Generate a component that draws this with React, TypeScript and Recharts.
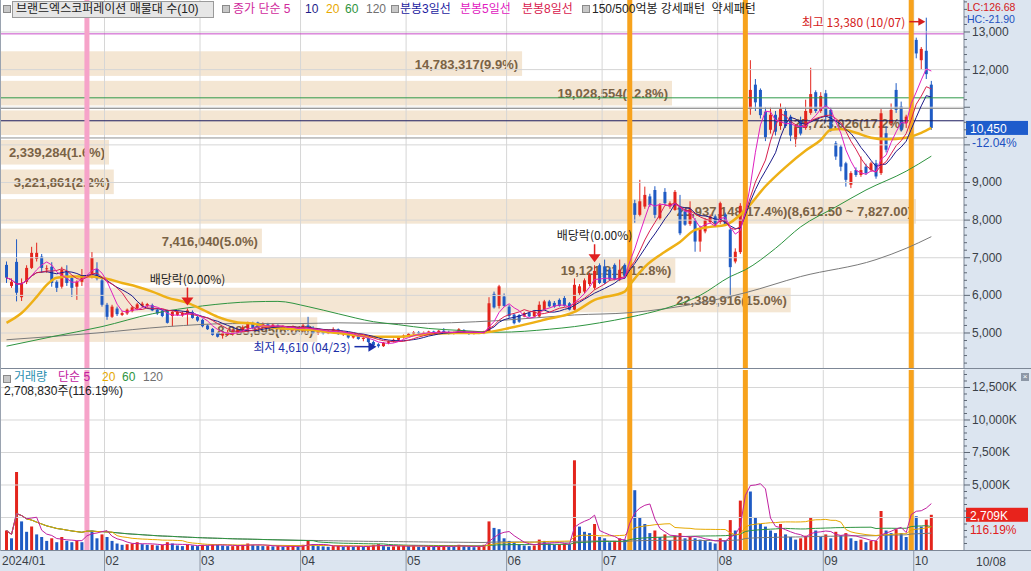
import React from 'react';
import { ComposedChart, Bar, Line, XAxis, YAxis, ReferenceLine, ReferenceDot, Cell } from 'recharts';

// ---------- categories ----------
const monthLabels = ['2024/01', '02', '03', '04', '05', '06', '07', '08', '09', '10'];
const tradingDays: number[][] = [
  [4, 5, 8, 9, 10, 11, 12, 15, 16, 17, 18, 19, 22, 23, 24, 25, 26, 29, 30, 31],
  [1, 2, 5, 6, 7, 8, 13, 14, 15, 16, 19, 20, 21, 22, 23, 26, 27, 28, 29],
  [4, 5, 6, 7, 8, 11, 12, 13, 14, 15, 18, 19, 20, 21, 22, 25, 26, 27, 28, 29],
  [1, 2, 3, 4, 5, 8, 9, 11, 12, 15, 16, 17, 18, 19, 22, 23, 24, 25, 26, 29, 30],
  [2, 3, 7, 8, 9, 10, 13, 14, 16, 17, 20, 21, 22, 23, 24, 27, 28, 29, 30, 31],
  [3, 4, 5, 7, 10, 11, 12, 13, 14, 17, 18, 19, 20, 21, 24, 25, 26, 27, 28],
  [1, 2, 3, 4, 5, 8, 9, 10, 11, 12, 15, 16, 17, 18, 19, 22, 23, 24, 25, 26, 29, 30, 31],
  [1, 2, 5, 6, 7, 8, 9, 12, 13, 14, 16, 19, 20, 21, 22, 23, 26, 27, 28, 29, 30],
  [2, 3, 4, 5, 6, 9, 10, 11, 12, 13, 19, 20, 23, 24, 25, 26, 27, 30],
  [2, 4, 7, 8],
];

// ---------- daily prices ----------
const opens = [
  6810, 6250, 6890, 5950, 6360, 6730, 6970, 7030, 6700, 6760, 6360, 6230, 6650, 6460, 6230, 6360, 6280, 6550, 6700, 6400,
  5750, 5430, 5650, 5480, 5520, 5580, 5650, 5720, 5720, 5740, 5620, 5600, 5600, 5450, 5480, 5470, 5500, 5560, 5430,
  5350, 5200, 5110, 5000, 4930, 4950, 4960, 5020, 5050, 5120, 5260, 5280, 5180, 5230, 5160, 5200, 5130, 5160, 5080, 5140,
  5060, 5200, 5130, 5000, 5050, 4990, 5060, 5100, 4970, 4990, 4880, 4950, 4840, 4870, 4760, 4700, 4650, 4740, 4780, 4820, 4880,
  4930, 4980, 5020, 4990, 5010, 5040, 5000, 5060, 5020, 4990, 5020, 5080, 5000, 4980, 5010, 4990, 5040, 6040, 5720, 5970,
  5700, 5490, 5480, 5440, 5530, 5440, 5440, 5620, 5840, 5800, 5880, 5930, 5790, 5620, 6060, 6100, 6300, 6200, 6800,
  6770, 6680, 6810, 6420, 6810, 6650, 8450, 8140, 8360, 8630, 8800, 8050, 8750, 8360, 8270, 8360, 8230, 7900, 8000, 7430, 7700, 7950, 8100,
  7950, 8150, 7750, 6900, 7150, 8400, 10950, 11600, 11460, 10880, 10400, 10800, 10500, 10900, 10750, 10150, 10650, 10450, 10850, 11400, 10900,
  11370, 10930, 10040, 9950, 9510, 8940, 9330, 9200, 9420, 9330, 9510, 9250, 10310, 10580, 11460, 11020, 10575, 10650,
  12790, 12250, 12500, 11600,
];
const highs = [
  6900, 6450, 7490, 6450, 6800, 7290, 7400, 7100, 6800, 6880, 6400, 6760, 6800, 6500, 6400, 6700, 7760, 7150, 6880, 6450,
  5800, 5750, 5700, 5580, 5650, 5720, 5800, 5830, 5800, 5780, 5650, 5620, 5620, 5580, 5600, 5580, 5650, 5600, 5450,
  5380, 5230, 5130, 5020, 5050, 5080, 5100, 5120, 5200, 5300, 5300, 5300, 5280, 5270, 5250, 5230, 5200, 5180, 5200, 5170,
  5250, 5430, 5180, 5080, 5100, 5080, 5150, 5120, 5030, 5010, 4980, 4970, 4900, 4890, 4800, 4730, 4760, 4800, 4850, 4900, 4960,
  5000, 5050, 5050, 5040, 5060, 5060, 5080, 5130, 5060, 5040, 5130, 5100, 5030, 5040, 5040, 5060, 5950, 6100, 6280, 6050,
  5750, 5520, 5500, 5560, 5560, 5600, 5840, 5880, 5880, 5850, 5920, 5980, 5820, 6450, 6300, 6450, 6600, 6800, 6850,
  6950, 6720, 6850, 6950, 6850, 8450, 8540, 9070, 8890, 8700, 8900, 8450, 8850, 8500, 8800, 8670, 8300, 8500, 8050, 7850, 8050, 8150, 8150,
  8490, 8200, 7800, 7250, 8450, 10890, 12250, 11750, 11500, 11000, 11000, 10900, 11100, 11000, 10800, 10550, 10750, 11200, 12050, 11450, 11400,
  11460, 11000, 10100, 10000, 9550, 9300, 9400, 9690, 9500, 9550, 9600, 10950, 10500, 11100, 11640, 11150, 10800, 12650,
  12850, 12600, 13380, 11700,
];
const lows = [
  6330, 6200, 5840, 5850, 6300, 6700, 6900, 6600, 6600, 6230, 6090, 6180, 6250, 5960, 5880, 6250, 6230, 6450, 6400, 5700,
  5350, 5400, 5450, 5450, 5480, 5550, 5620, 5680, 5680, 5580, 5480, 5420, 5250, 5180, 5450, 5430, 5200, 5380, 5300,
  5150, 5080, 4930, 4880, 4850, 4920, 4930, 4980, 5020, 5080, 5100, 5150, 5150, 5130, 5120, 5100, 5080, 5050, 5050, 5040,
  5040, 5100, 4980, 4950, 4960, 4970, 5020, 4950, 4920, 4850, 4850, 4820, 4780, 4740, 4650, 4610, 4630, 4700, 4750, 4790, 4850,
  4900, 4950, 4960, 4960, 4980, 4970, 4980, 5000, 4960, 4960, 5000, 4980, 4950, 4960, 4970, 4970, 5020, 5650, 5650, 5700,
  5400, 5230, 5270, 5420, 5420, 5420, 5420, 5600, 5680, 5670, 5700, 5700, 5600, 5600, 6000, 6050, 6250, 6150, 6300,
  6300, 6380, 6400, 6380, 6450, 6600, 7930, 8100, 8300, 8350, 8050, 8000, 8400, 8300, 8250, 7600, 7850, 7850, 7160, 7160, 7650, 7900, 7850,
  7900, 7850, 5970, 6850, 7100, 8300, 10800, 10900, 10700, 10100, 10300, 10250, 10400, 10450, 10100, 9950, 10250, 10400, 10800, 10850, 10850,
  10600, 10350, 9600, 9300, 8890, 8850, 9150, 9150, 9200, 9280, 9100, 9200, 9800, 10500, 10850, 10350, 10450, 10600,
  12300, 12000, 11750, 10400,
];
const closes = [
  6470, 6360, 6070, 6330, 6730, 7130, 7130, 6730, 6720, 6330, 6200, 6680, 6330, 6200, 6360, 6540, 7210, 7000, 6450, 5750,
  5430, 5700, 5500, 5530, 5620, 5680, 5760, 5780, 5770, 5600, 5520, 5450, 5270, 5560, 5560, 5530, 5600, 5400, 5330,
  5180, 5100, 4950, 4900, 5000, 5020, 5040, 5080, 5150, 5250, 5130, 5180, 5250, 5150, 5220, 5120, 5170, 5080, 5150, 5060,
  5200, 5130, 5000, 5050, 4990, 5060, 5100, 4970, 4990, 4880, 4950, 4840, 4870, 4760, 4680, 4650, 4740, 4780, 4820, 4880, 4930,
  4980, 5020, 4990, 5010, 5040, 5000, 5060, 5020, 4990, 5020, 5100, 5000, 4980, 5010, 4990, 5040, 5790, 5680, 6240, 5720,
  5450, 5260, 5300, 5530, 5440, 5570, 5750, 5840, 5710, 5700, 5720, 5720, 5620, 6280, 6240, 6400, 6550, 6650, 6330,
  6330, 6420, 6420, 6680, 6500, 8450, 8140, 8500, 8670, 8400, 8140, 8400, 8450, 8450, 8750, 7650, 7880, 8300, 7430, 7780, 8000, 8100, 7900,
  8450, 7880, 6750, 7160, 8380, 10890, 11460, 11130, 10790, 10200, 10800, 10350, 10950, 10500, 10250, 10450, 10300, 10900, 11350, 10900, 11300,
  10750, 10400, 9690, 9420, 9070, 9250, 9200, 9330, 9250, 9510, 9160, 10840, 9870, 10930, 10930, 10400, 10750, 12500,
  12430, 12550, 11880, 10450,
];
// volume in thousands of shares
const volumesK = [
  1500, 900, 6000, 2200, 1400, 1800, 1200, 1000, 700, 900, 600, 1000, 700, 600, 700, 600, 2850, 1500, 900, 1200,
  1000, 700, 500, 400, 450, 500, 600, 450, 400, 400, 350, 400, 600, 500, 350, 300, 400, 350, 300,
  400, 350, 450, 400, 350, 300, 300, 350, 400, 500, 400, 350, 300, 300, 280, 300, 250, 280, 300, 250,
  400, 700, 450, 300, 280, 250, 300, 350, 250, 300, 250, 300, 250, 300, 400, 450, 300, 250, 280, 300, 350,
  300, 350, 250, 230, 280, 250, 300, 350, 250, 230, 400, 300, 250, 220, 250, 400, 2200, 1700, 1600, 900,
  700, 600, 450, 350, 300, 350, 800, 700, 500, 400, 450, 500, 450, 6900, 1800, 1400, 1300, 2000, 1000,
  900, 600, 700, 900, 800, 7300, 4600, 2500, 2000, 1300, 1500, 1000, 1200, 700, 1100, 1300, 900, 1000, 900, 800, 700, 600, 500,
  900, 700, 2300, 1500, 3800, 12700, 4500, 2500, 2000, 1800, 1500, 1300, 2000, 1200, 1000, 800, 900, 1100, 2500, 1500, 1000,
  1200, 900, 1400, 1100, 1300, 900, 700, 800, 600, 700, 700, 3000, 1500, 1300, 1600, 1300, 1000, 8400,
  2600, 1800, 2331.36, 2708.83,
];

// ---------- long moving averages: [day index, value] ----------
const ma20Read: [number, number][] = [
  [0, 5270], [3, 5530], [6, 5960], [8, 6280], [10, 6470], [13, 6500], [16, 6500], [19, 6470], [23, 6330], [26, 6230],
  [29, 6100], [32, 5940], [36, 5800], [39, 5620], [42, 5430], [46, 5280], [49, 5250], [53, 5140], [60, 5085], [66, 5000],
  [73, 4900], [78, 4900], [82, 4950], [89, 5000], [94, 5000], [101, 5160], [107, 5350], [113, 5560], [117, 5880], [123, 6100],
  [124, 6280], [127, 6760], [131, 7160], [134, 7420], [137, 7740], [140, 7820], [143, 7870], [147, 8270], [151, 8900],
  [155, 9410], [159, 9850], [162, 10130], [164, 10400], [166, 10420], [169, 10320], [172, 10190], [175, 10150], [179, 10190],
  [182, 10320], [184, 10450],
];
const ma60Read: [number, number][] = [
  [0, 4650], [9, 4900], [19, 5170], [29, 5510], [39, 5720], [49, 5830], [54, 5840], [60, 5700], [66, 5510], [73, 5300],
  [78, 5220], [84, 5120], [90, 5070], [98, 5020], [108, 5100], [113, 5170], [118, 5270], [124, 5420], [131, 5650], [138, 6000],
  [144, 6500], [147, 6680], [153, 7250], [158, 7820], [165, 8350], [171, 8800], [179, 9300], [184, 9700],
];
const ma120Read: [number, number][] = [
  [0, 4820], [18, 5000], [32, 5170], [45, 5250], [58, 5250], [66, 5270], [79, 5250], [98, 5330], [113, 5480], [124, 5540],
  [138, 5800], [147, 6070], [158, 6500], [173, 6950], [179, 7250], [184, 7560],
];

// ---------- volume profile (매물대 10) ----------
const vpLow = [4685, 5470.5, 6256, 7041.5, 7827, 8612.5, 9398, 10183.5, 10969, 11754.5];
const VP_STEP = 785.5;
const vpVolume = [8983895, 22389916, 19121814, 7416040, 25937148, 3221861, 2339284, 25723026, 19028554, 14783317];
const vpPercent = [6.0, 15.0, 12.8, 5.0, 17.4, 2.2, 1.6, 17.2, 12.8, 9.9];

// ---------- horizontal level lines & events ----------
const levelPrices = [12950, 11250, 10640];
const strongDays = ['07/08', '08/08', '09/30'];
const weakDays = ['01/26'];
const exDivDays = ['02/27', '06/27'];
const highDay = '10/07';
const highPrice = 13380;
const lowDay = '04/23';
const lowPrice = 4610;
const lcText = 'LC:126.68';
const hcText = 'HC:-21.90';
const lastChangeText = '-12.04%';
const volRatioText = '116.19%';
const lastVolumeText = '2,708,830주(116.19%)';

// ---------- derived ----------
const RED = '#e3241c';
const BLUE = '#1f5bc4';
const NUM_FONT = "'Liberation Sans', 'Noto Sans CJK KR', sans-serif";
const KR_FONT = "'Noto Sans CJK KR', 'Liberation Sans', sans-serif";
const PAD_SLOTS = 6;
const CHART_W = 1031;
const AXIS_W = 67;
const PLOT_W = CHART_W - AXIS_W;
const LEFT_PAD = 4;
const PRICE_H = 369;

const pad2 = (n: number) => String(n).padStart(2, '0');
const dates: string[] = tradingDays.flatMap((days, m) => days.map((d) => `${pad2(m + 1)}/${pad2(d)}`));
const monthStarts: string[] = tradingDays.map((days, m) => `${pad2(m + 1)}/${pad2(days[0])}`);
const monthLabelOf: Record<string, string> = {};
monthStarts.forEach((d, m) => (monthLabelOf[d] = monthLabels[m]));
const BAND = (PLOT_W - LEFT_PAD) / (dates.length + PAD_SLOTS);

function sma(arr: number[], n: number) {
  return arr.map((_, k) => {
    const s = Math.max(0, k - n + 1);
    let sum = 0;
    for (let j = s; j <= k; j++) sum += arr[j];
    return sum / (k - s + 1);
  });
}
const ma5 = sma(closes, 5);
const ma8 = sma(closes, 8);
const ma10 = sma(closes, 10);
const vma5 = sma(volumesK, 5);
const vma20 = sma(volumesK, 20);
const vma60 = sma(volumesK, 60);
const vma120 = sma(volumesK, 120);
const m20 = new Map(ma20Read);
const m60 = new Map(ma60Read);
const m120 = new Map(ma120Read);

const rows: any[] = [
  ...dates.map((d, k) => ({
    d,
    o: opens[k], h: highs[k], l: lows[k], c: closes[k],
    range: [lows[k], highs[k]],
    v: volumesK[k],
    vcol: k === 0 || volumesK[k] >= volumesK[k - 1] ? RED : BLUE,
    ma5: ma5[k], ma8: ma8[k], ma10: ma10[k],
    ma20: m20.has(k) ? m20.get(k) : null,
    ma60: m60.has(k) ? m60.get(k) : null,
    ma120: m120.has(k) ? m120.get(k) : null,
    vma5: vma5[k], vma20: vma20[k], vma60: vma60[k], vma120: vma120[k],
  })),
  ...Array.from({ length: PAD_SLOTS }, (_, j) => ({ d: `+${j + 1}` })),
];

const lastClose = closes[closes.length - 1];
const lastVol = volumesK[volumesK.length - 1];

const PRICE_DOMAIN: [number, number] = [4043, 13850];
const priceTicks: number[] = [];
for (let v = 4200; v <= 13800; v += 200) priceTicks.push(v);
const VOL_DOMAIN: [number, number] = [0, 13846];
const volTicks: number[] = [];
for (let v = 500; v <= 13500; v += 500) volTicks.push(v);

const VP_AXIS_MAX = (Math.max(...vpVolume) * PLOT_W) / 916;
const VP_BAR_PX = (VP_STEP * PRICE_H) / (PRICE_DOMAIN[1] - PRICE_DOMAIN[0]);
const fmt = (n: number) => n.toLocaleString('en-US');
const fmt2 = (n: number) => n.toLocaleString('en-US', { minimumFractionDigits: 2, maximumFractionDigits: 2 });
const vpMaxIdx = vpVolume.indexOf(Math.max(...vpVolume));
const vpRows = vpLow.map((lo, k) => {
  let text = `${fmt(vpVolume[k])}(${vpPercent[k].toFixed(1)}%)`;
  if (k === vpMaxIdx) text += `(${fmt2(lo + VP_STEP)} ~ ${fmt2(lo)})`;
  const labelPx = text.length * 6.6 + 10;
  const minVol = (labelPx / PLOT_W) * VP_AXIS_MAX;
  return { mid: lo + VP_STEP / 2, lo, hi: lo + VP_STEP, w: Math.max(vpVolume[k], minVol), text };
});
const currentBand = vpRows.find((b) => lastClose >= b.lo && lastClose < b.hi);

// ---------- render helpers ----------
const Candle = (p: any) => {
  const { x, y, width, height, payload } = p;
  if (!payload || payload.o == null) return null;
  const { o, h, l, c } = payload;
  const span = h - l || 1;
  const py = (v: number) => y + ((h - v) / span) * height;
  const color = c >= o ? RED : BLUE;
  const cx = x + width / 2;
  const top = py(Math.max(o, c));
  const bot = py(Math.min(o, c));
  return (
    <g>
      <line x1={cx} x2={cx} y1={y} y2={y + height} stroke={color} strokeWidth={1} />
      <rect x={x} y={top} width={width} height={Math.max(1, bot - top)} fill={color} />
    </g>
  );
};

const VpShape = (p: any) => {
  const { x, y, width, height, payload } = p;
  if (!payload) return null;
  return (
    <g>
      <rect x={x} y={y + 1} width={width} height={Math.max(0, height - 2)} fill="#f4e6d3" />
      <text x={x + width - 4} y={y + height / 2 + 5} textAnchor="end" fontSize={13} fontWeight="bold" fill="#7a6245" fontFamily={NUM_FONT}>
        {payload.text}
      </text>
    </g>
  );
};

const PriceTick = (p: any) => {
  const { x, y, payload } = p;
  const v = payload.value;
  const major = v % 1000 === 0;
  const showLabel = major && Math.abs(v - lastClose) > 600;
  return (
    <g>
      <line x1={x} x2={x + (major ? 6 : 3)} y1={y} y2={y} stroke="#5c6673" />
      {showLabel && (
        <text x={x + 8} y={y + 4} fontSize={12} fill="#3a3f47" fontFamily={NUM_FONT}>{fmt(v)}</text>
      )}
    </g>
  );
};

const VolTick = (p: any) => {
  const { x, y, payload } = p;
  const v = payload.value;
  const major = v % 2500 === 0;
  return (
    <g>
      <line x1={x} x2={x + (major ? 6 : 3)} y1={y} y2={y} stroke="#5c6673" />
      {major && v > 2500 && (
        <text x={x + 8} y={y + 4} fontSize={12} fill="#3a3f47" fontFamily={NUM_FONT}>{fmt(v)}K</text>
      )}
    </g>
  );
};

const MonthTick = (p: any) => {
  const { x, y, payload } = p;
  const left = x - BAND / 2;
  const first = payload.value === monthStarts[0];
  return (
    <g>
      {!first && <line x1={left} x2={left} y1={y} y2={y + 21} stroke="#8d97a6" />}
      <text x={first ? 2 : left + 1} y={y + 15} fontSize={12} fill="#3a3f47" fontFamily={NUM_FONT}>
        {monthLabelOf[payload.value]}
      </text>
    </g>
  );
};

const ExDiv = (p: any) => {
  const { cx, cy } = p;
  const tip = cy - 3;
  return (
    <g>
      <text x={cx} y={tip - 22} textAnchor="middle" fontSize={12} fill="#222" fontFamily={KR_FONT}>배당락(0.00%)</text>
      <line x1={cx} x2={cx} y1={tip - 18} y2={tip - 7} stroke="#e02020" strokeWidth={1.5} />
      <polygon points={`${cx - 6},${tip - 8} ${cx + 6},${tip - 8} ${cx},${tip}`} fill="#e02020" />
    </g>
  );
};

const HighMark = (p: any) => {
  const { cx, cy } = p;
  const ty = cy + 4;
  return (
    <g>
      <text x={cx - 21} y={ty + 5} textAnchor="end" fontSize={12} fill="#d42020" fontFamily={KR_FONT}>최고 13,380 (10/07)</text>
      <line x1={cx - 17} x2={cx - 7} y1={ty} y2={ty} stroke="#d42020" strokeWidth={1.5} />
      <polygon points={`${cx - 8},${ty - 4} ${cx - 1},${ty} ${cx - 8},${ty + 4}`} fill="#d42020" />
    </g>
  );
};

const LowMark = (p: any) => {
  const { cx, cy } = p;
  const ty = cy - 1;
  return (
    <g>
      <text x={cx - 28} y={ty + 5} textAnchor="end" fontSize={12} fill="#1a2ea8" fontFamily={KR_FONT}>최저 4,610 (04/23)</text>
      <line x1={cx - 24} x2={cx - 9} y1={ty} y2={ty} stroke="#1a2ea8" strokeWidth={1.5} />
      <polygon points={`${cx - 10},${ty - 5} ${cx - 2},${ty} ${cx - 10},${ty + 5}`} fill="#1a2ea8" />
    </g>
  );
};

const PriceBox = (p: any) => {
  const vb = p.viewBox || {};
  const x0 = (vb.x || 0) + (vb.width || 0) + 2;
  const y = vb.y || 0;
  return (
    <g>
      <rect x={x0} y={y - 7} width={62} height={14} fill="#1e5ccc" />
      <text x={x0 + 4} y={y + 5} fontSize={12} fill="#fff" fontFamily={NUM_FONT}>{fmt(lastClose)}</text>
      <text x={x0 + 6} y={y + 19} fontSize={12} fill="#2050c0" fontFamily={NUM_FONT}>{lastChangeText}</text>
    </g>
  );
};

const VolBox = (p: any) => {
  const vb = p.viewBox || {};
  const x0 = (vb.x || 0) + (vb.width || 0) + 2;
  const y = vb.y || 0;
  return (
    <g>
      <rect x={x0} y={y - 7} width={62} height={14} fill="#e8231c" />
      <text x={x0 + 4} y={y + 5} fontSize={12} fill="#fff" fontFamily={NUM_FONT}>{fmt(Math.round(lastVol))}K</text>
      <text x={x0 + 4} y={y + 19} fontSize={12} fill="#e02020" fontFamily={NUM_FONT}>{volRatioText}</text>
    </g>
  );
};

const Sq = ({ left, top }: { left: number; top: number }) => (
  <div style={{ position: 'absolute', left, top, width: 6, height: 6, border: '1px solid #8a8a8a', background: '#c8c8c8' }} />
);

const T = ({ left, top, color, children, size = 12, lh = 14 }: any) => (
  <div style={{ position: 'absolute', left, top, color, fontSize: size, lineHeight: `${lh}px`, whiteSpace: 'nowrap', fontFamily: NUM_FONT }}>{children}</div>
);

export default function App() {
  const lineProps = { dot: false, isAnimationActive: false, activeDot: false } as any;
  return (
    <div style={{ position: 'absolute', left: 0, top: 0, width: CHART_W, height: 571, background: '#ffffff', overflow: 'hidden', fontFamily: NUM_FONT }}>
      {/* axis column and bottom row backgrounds */}
      <div style={{ position: 'absolute', left: PLOT_W, top: 0, width: AXIS_W, height: 571, background: '#dce5f0' }} />
      <div style={{ position: 'absolute', left: 0, top: 550, width: CHART_W, height: 21, background: '#dce5f0' }} />

      {/* volume-profile bands (behind the price panel) */}
      <div style={{ position: 'absolute', left: 0, top: 0 }}>
        <ComposedChart layout="vertical" width={CHART_W} height={PRICE_H} data={vpRows} margin={{ top: 0, right: 0, bottom: 0, left: 0 }} barCategoryGap={0}>
          <XAxis type="number" domain={[0, VP_AXIS_MAX]} hide allowDataOverflow />
          <YAxis type="number" dataKey="mid" orientation="right" width={AXIS_W} domain={PRICE_DOMAIN} allowDataOverflow reversed
            tick={false} tickLine={false} axisLine={false} />
          <Bar dataKey="w" barSize={VP_BAR_PX} isAnimationActive={false} shape={(p: any) => <VpShape {...p} />} />
        </ComposedChart>
      </div>

      {/* price panel */}
      <div style={{ position: 'absolute', left: 0, top: 0 }}>
        <ComposedChart width={CHART_W} height={PRICE_H} data={rows} margin={{ top: 0, right: 0, bottom: 0, left: 0 }}>
          <XAxis dataKey="d" hide padding={{ left: LEFT_PAD, right: 0 }} />
          <YAxis orientation="right" width={AXIS_W} type="number" domain={PRICE_DOMAIN} allowDataOverflow
            ticks={priceTicks} interval={0} tick={<PriceTick />} tickLine={false} tickSize={0} tickMargin={0}
            axisLine={{ stroke: '#7d8796' }} />
          {[5000, 6000, 7000, 8000, 9000, 10000, 11000, 12000, 13000].map((v) => (
            <ReferenceLine key={`g${v}`} y={v} stroke="#d6d6d6" strokeWidth={1} />
          ))}
          {monthStarts.slice(1).map((d) => (
            <ReferenceLine key={`mv${d}`} x={d} position="start" stroke="#d6d6d6" strokeWidth={1} />
          ))}
          {currentBand && <ReferenceLine y={currentBand.hi} stroke="#8f8f8f" strokeWidth={1} />}
          {currentBand && <ReferenceLine y={currentBand.lo} stroke="#8f8f8f" strokeWidth={1} />}
          <ReferenceLine y={levelPrices[0]} stroke="#c94bc9" strokeWidth={1} />
          <ReferenceLine y={levelPrices[1]} stroke="#2f9a4a" strokeWidth={1} />
          <ReferenceLine y={levelPrices[2]} stroke="#1b1b5e" strokeWidth={1} />
          {weakDays.map((d) => (
            <ReferenceLine key={`w${d}`} x={d} stroke="#f6a3c9" strokeWidth={5} />
          ))}
          {strongDays.map((d) => (
            <ReferenceLine key={`s${d}`} x={d} stroke="#f7a21c" strokeWidth={5} />
          ))}
          <Line dataKey="ma120" stroke="#7a7a7a" strokeWidth={1} type="monotone" connectNulls {...lineProps} />
          <Line dataKey="ma60" stroke="#2e9440" strokeWidth={1} type="monotone" connectNulls {...lineProps} />
          <Line dataKey="ma20" stroke="#eeb016" strokeWidth={2.5} type="monotone" connectNulls {...lineProps} />
          <Bar dataKey="range" barSize={3} isAnimationActive={false} shape={(p: any) => <Candle {...p} />} />
          <Line dataKey="ma10" stroke="#1c1c8a" strokeWidth={1} type="linear" {...lineProps} />
          <Line dataKey="ma8" stroke="#d8204e" strokeWidth={1} type="linear" {...lineProps} />
          <Line dataKey="ma5" stroke="#e020c0" strokeWidth={1} type="linear" {...lineProps} />
          {exDivDays.map((d) => (
            <ReferenceDot key={`ex${d}`} x={d} y={highs[dates.indexOf(d)]} r={0} ifOverflow="visible" shape={(p: any) => <ExDiv {...p} />} />
          ))}
          <ReferenceDot x={highDay} y={highPrice} r={0} ifOverflow="visible" shape={(p: any) => <HighMark {...p} />} />
          <ReferenceDot x={lowDay} y={lowPrice} r={0} ifOverflow="visible" shape={(p: any) => <LowMark {...p} />} />
          <ReferenceLine y={lastClose} stroke="none" label={(p: any) => <PriceBox {...p} />} />
        </ComposedChart>
      </div>

      {/* volume panel */}
      <div style={{ position: 'absolute', left: 0, top: 369 }}>
        <ComposedChart width={CHART_W} height={202} data={rows} margin={{ top: 1, right: 0, bottom: 0, left: 0 }}>
          <XAxis dataKey="d" padding={{ left: LEFT_PAD, right: 0 }} ticks={monthStarts} interval={0}
            tick={<MonthTick />} tickLine={false} tickSize={0} tickMargin={0} axisLine={false} height={21} />
          <YAxis orientation="right" width={AXIS_W} type="number" domain={VOL_DOMAIN} allowDataOverflow
            ticks={volTicks} interval={0} tick={<VolTick />} tickLine={false} tickSize={0} tickMargin={0}
            axisLine={{ stroke: '#7d8796' }} />
          {[2500, 5000, 7500, 10000, 12500].map((v) => (
            <ReferenceLine key={`vg${v}`} y={v} stroke="#d6d6d6" strokeWidth={1} />
          ))}
          {monthStarts.slice(1).map((d) => (
            <ReferenceLine key={`vm${d}`} x={d} position="start" stroke="#d6d6d6" strokeWidth={1} />
          ))}
          {weakDays.map((d) => (
            <ReferenceLine key={`vw${d}`} x={d} stroke="#f6a3c9" strokeWidth={5} />
          ))}
          {strongDays.map((d) => (
            <ReferenceLine key={`vs${d}`} x={d} stroke="#f7a21c" strokeWidth={5} />
          ))}
          <Bar dataKey="v" barSize={3} isAnimationActive={false}>
            {rows.map((r, k) => (
              <Cell key={`c${k}`} fill={r.vcol || RED} />
            ))}
          </Bar>
          <Line dataKey="vma120" stroke="#7a7a7a" strokeWidth={1} type="linear" {...lineProps} />
          <Line dataKey="vma60" stroke="#2e9440" strokeWidth={1} type="linear" {...lineProps} />
          <Line dataKey="vma20" stroke="#e6a800" strokeWidth={1} type="linear" {...lineProps} />
          <Line dataKey="vma5" stroke="#c020a0" strokeWidth={1} type="linear" {...lineProps} />
          <ReferenceLine y={lastVol} stroke="none" label={(p: any) => <VolBox {...p} />} />
        </ComposedChart>
      </div>

      {/* panel separators */}
      <div style={{ position: 'absolute', left: 0, top: 368, width: CHART_W, height: 1, background: '#7d8796' }} />
      <div style={{ position: 'absolute', left: 0, top: 550, width: CHART_W, height: 1, background: '#7d8796' }} />
      <div style={{ position: 'absolute', left: 0, top: 0, width: 1, height: 551, background: '#9aa3b0' }} />

      {/* price legend */}
      <Sq left={3} top={5} />
      <div style={{ position: 'absolute', left: 12, top: 1, width: 200, height: 15, background: '#e6e6e6', border: '1px solid #9a9a9a' }} />
      <T left={16} top={2} color="#222">브랜드엑스코퍼레이션 매물대 수(10)</T>
      <Sq left={222} top={5} />
      <T left={233} top={2} color="#d02a9c">종가 단순 5</T>
      <T left={305} top={2} color="#1c1c8a">10</T>
      <T left={326} top={2} color="#e8a800">20</T>
      <T left={345} top={2} color="#2e9440">60</T>
      <T left={366} top={2} color="#707070">120</T>
      <Sq left={391} top={5} />
      <T left={400} top={2} color="#1c1ca0">분봉3일선</T>
      <T left={460} top={2} color="#e020c0">분봉5일선</T>
      <T left={522} top={2} color="#d8204e">분봉8일선</T>
      <Sq left={582} top={5} />
      <T left={592} top={2} color="#222">150/500억봉 강세패턴&nbsp;&nbsp;약세패턴</T>
      <T left={967} top={0.5} color="#d42020" size={10.5} lh={12}>{lcText}</T>
      <T left={967} top={12.6} color="#2050c0" size={10.5} lh={12}>{hcText}</T>

      {/* volume legend */}
      <Sq left={3} top={375} />
      <T left={14} top={371} color="#2a8fb0" lh={12}>거래량</T>
      <T left={58} top={371} color="#c020a0" lh={12}>단순 5</T>
      <T left={102} top={371} color="#e6a800" lh={12}>20</T>
      <T left={122} top={371} color="#2e9440" lh={12}>60</T>
      <T left={143} top={371} color="#707070" lh={12}>120</T>
      <T left={4} top={385} color="#222" lh={12}>{lastVolumeText}</T>
      <div style={{ position: 'absolute', left: 1021, top: 373, width: 8, height: 8, background: '#8d97a6', color: '#fff', fontSize: 8, lineHeight: '8px', textAlign: 'center' }}>×</div>
      <T left={976} top={555} color="#3a3f47">10/08</T>
    </div>
  );
}
